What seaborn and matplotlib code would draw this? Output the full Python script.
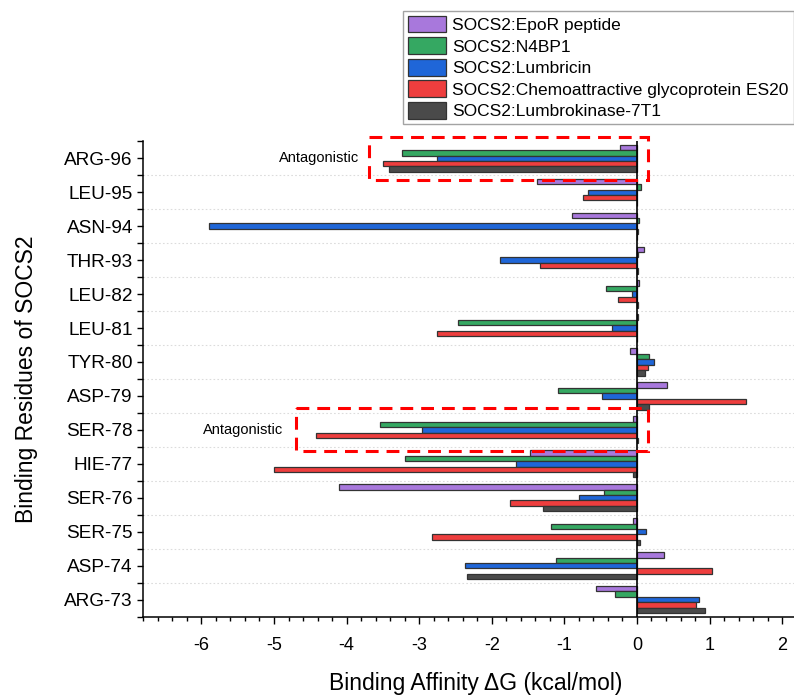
import pandas as pd
import matplotlib.pyplot as plt
import seaborn as sns
from matplotlib.patches import Rectangle
from matplotlib.ticker import MultipleLocator, FixedLocator

residues = ["ARG-96", "LEU-95", "ASN-94", "THR-93", "LEU-82", "LEU-81", "TYR-80",
            "ASP-79", "SER-78", "HIE-77", "SER-76", "SER-75", "ASP-74", "ARG-73"]
complexes = ["SOCS2:EpoR peptide", "SOCS2:N4BP1", "SOCS2:Lumbricin",
             "SOCS2:Chemoattractive glycoprotein ES20", "SOCS2:Lumbrokinase-7T1"]

epor = [-0.23, -1.38, -0.90, 0.10, 0.03, 0.02, -0.09, 0.41, -0.05, -1.48, -4.10, -0.06, 0.37, -0.56]
n4bp1 = [-3.23, 0.05, 0.03, 0.02, -0.42, -2.46, 0.17, -1.09, -3.54, -3.20, -0.45, -1.18, -1.11, -0.30]
lumbricin = [-2.75, -0.67, -5.90, -1.88, -0.07, -0.34, 0.23, -0.48, -2.96, -1.66, -0.80, 0.12, -2.37, 0.85]
chemo = [-3.50, -0.74, 0.02, -1.34, -0.26, -2.75, 0.15, 1.50, -4.42, -5.00, -1.75, -2.83, 1.03, 0.82]
lumbrokinase = [-3.41, 0.0, 0.0, 0.02, 0.02, 0.0, 0.11, 0.16, 0.02, -0.06, -1.30, 0.04, -2.34, 0.94]

colors = ["#a878dc", "#35a862", "#1f66d8", "#ee3e3e", "#4a4a4a"]

# antagonistic boxes: (residue, x left, x right, text x)
boxes = [("ARG-96", -3.69, 0.15, -3.82), ("SER-78", -4.69, 0.155, -4.87)]

rows = []
for name, vals in zip(complexes, [epor, n4bp1, lumbricin, chemo, lumbrokinase]):
    for r, v in zip(residues, vals):
        rows.append({"residue": r, "complex": name, "dG": v})
df = pd.DataFrame(rows)

sns.set_style("ticks")
plt.rcParams['font.family'] = ['Liberation Sans', 'DejaVu Sans']
plt.rcParams['axes.unicode_minus'] = False
plt.rcParams['text.color'] = 'black'
plt.rcParams['axes.labelcolor'] = 'black'
plt.rcParams['xtick.color'] = 'black'
plt.rcParams['ytick.color'] = 'black'

fig = plt.figure(figsize=(7.94, 6.95), dpi=100)
ax = fig.add_axes([0.1805, 0.1128, 0.8192, 0.6839])

sns.barplot(data=df, x="dG", y="residue", hue="complex", order=residues,
            hue_order=complexes, palette=colors, orient="h", width=0.8,
            edgecolor="#333333", linewidth=0.9, saturation=1, ax=ax)

ax.set_xlim(-6.8, 2.16)
ax.set_ylim(len(residues) - 0.5, -0.5)

# boundaries between residues
for i in range(len(residues) - 1):
    ax.axhline(i + 0.5, color="#dcdcdc", lw=0.8, ls=(0, (1.5, 2)), zorder=0)
ax.axvline(0, color="black", lw=1.2, zorder=5)

ax.xaxis.set_major_locator(MultipleLocator(1))
ax.xaxis.set_minor_locator(MultipleLocator(0.2))
ax.yaxis.set_minor_locator(FixedLocator([i + 0.5 for i in range(-1, len(residues))]))
ax.tick_params(axis="x", which="major", length=5, width=1, labelsize=13, pad=10, direction="out")
ax.tick_params(axis="x", which="minor", length=3, width=1, direction="out")
ax.tick_params(axis="y", which="both", length=4, width=1, labelsize=13.7, direction="out")
for s in ["top", "right"]:
    ax.spines[s].set_visible(False)
for s in ["left", "bottom"]:
    ax.spines[s].set_linewidth(1.1)
    ax.spines[s].set_color("black")

ax.set_xlabel("Binding Affinity ΔG (kcal/mol)", fontsize=16.5)
ax.set_ylabel("Binding Residues of SOCS2", fontsize=16.5)
ax.xaxis.set_label_coords(0.511, -0.14)
ax.xaxis.label.set_va("center")
ax.yaxis.set_label_coords(-0.18, 0.5)
ax.yaxis.label.set_va("center")

for res, x0, x1, tx in boxes:
    i = residues.index(res)
    ax.add_patch(Rectangle((x0, i - 0.64), x1 - x0, 1.27, fill=False, edgecolor="#ff0000",
                           lw=2.2, ls=(0, (4.2, 2.6)), clip_on=False, zorder=6))
    ax.text(tx, i, "Antagonistic", ha="right", va="center", fontsize=10.5)

handles, labels = ax.get_legend_handles_labels()
ax.legend(handles, labels, loc="upper left", bbox_to_anchor=(403 / 794, 1 - 10.5 / 695),
          bbox_transform=fig.transFigure, fontsize=12.5, frameon=True, fancybox=False,
          edgecolor="#8c8c8c", borderpad=0.3, handlelength=2.2, handleheight=1.1,
          labelspacing=0.25, handletextpad=0.35, borderaxespad=0)
ax.get_legend().get_frame().set_linewidth(1)

fig.savefig("out.png", dpi=100)
